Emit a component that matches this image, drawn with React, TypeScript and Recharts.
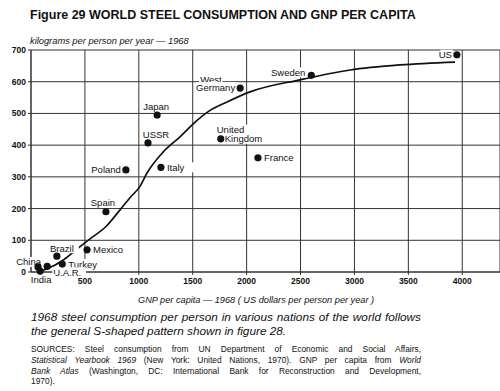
import { ComposedChart, Line, Scatter, XAxis, YAxis, CartesianGrid } from 'recharts'

// 1968 nations: GNP per capita (US $) and steel consumption (kg per person)
const countries = [
  'US', 'Sweden', 'West Germany', 'Japan', 'USSR', 'Italy', 'Poland', 'United Kingdom',
  'France', 'Spain', 'Mexico', 'Brazil', 'Turkey', 'China', 'U.A.R.', 'India',
]
const gnpPerCapita = [3950, 2600, 1940, 1170, 1085, 1205, 880, 1760, 2105, 695, 520, 240, 290, 65, 150, 85]
const steelPerCapita = [685, 620, 580, 495, 407, 330, 322, 420, 360, 190, 70, 50, 25, 16, 18, 3]

// the S-shaped trend curve
const curveGnp = [60, 150, 300, 455, 550, 700, 826, 920, 1011, 1076, 1225, 1382, 1540, 1640, 1818, 2031, 2495, 2959, 3423, 3933]
const curveSteel = [0, 10, 38, 80, 105, 145, 196, 235, 270, 312, 378, 426, 478, 505, 536, 568, 606, 637, 653, 662]

const xTicks = [500, 1000, 1500, 2000, 2500, 3000, 3500, 4000]
const yTicks = [0, 100, 200, 300, 400, 500, 600, 700]

type Piece = { text: string; dx: number; dy: number; anchor: 'start' | 'middle' | 'end' }

// where each country name sits relative to its dot
const labelPlacement: Record<string, Piece[]> = {
  'US': [{ text: 'US', dx: -5, dy: 0, anchor: 'end' }],
  'Sweden': [{ text: 'Sweden', dx: -6, dy: -3, anchor: 'end' }],
  'West Germany': [
    { text: 'West', dx: -40, dy: -9, anchor: 'start' },
    { text: 'Germany', dx: -5, dy: -1, anchor: 'end' },
  ],
  'Japan': [{ text: 'Japan', dx: -1, dy: -9, anchor: 'middle' }],
  'USSR': [{ text: 'USSR', dx: 8, dy: -8, anchor: 'middle' }],
  'Italy': [{ text: 'Italy', dx: 6, dy: 0, anchor: 'start' }],
  'Poland': [{ text: 'Poland', dx: -5, dy: 0, anchor: 'end' }],
  'United Kingdom': [
    { text: 'United', dx: -4, dy: -9, anchor: 'start' },
    { text: 'Kingdom', dx: 4, dy: 0, anchor: 'start' },
  ],
  'France': [{ text: 'France', dx: 6, dy: 0, anchor: 'start' }],
  'Spain': [{ text: 'Spain', dx: -3, dy: -9, anchor: 'middle' }],
  'Mexico': [{ text: 'Mexico', dx: 6, dy: 0, anchor: 'start' }],
  'Brazil': [{ text: 'Brazil', dx: 5, dy: -8, anchor: 'middle' }],
  'Turkey': [{ text: 'Turkey', dx: 6, dy: 0, anchor: 'start' }],
  'China': [{ text: 'China', dx: 3, dy: -5, anchor: 'end' }],
  'U.A.R.': [{ text: 'U.A.R.', dx: 6, dy: 6, anchor: 'start' }],
  'India': [{ text: 'India', dx: 1, dy: 8, anchor: 'middle' }],
}

const points = countries.map((name, i) => ({ name, x: gnpPerCapita[i], y: steelPerCapita[i] }))
const curve = curveGnp.map((x, i) => ({ x, y: curveSteel[i] }))

const FONT = '"Liberation Sans", Arial, Helvetica, sans-serif'
const INK = '#111'
const LABEL_SIZE = 9.5

function CountryLabel(props: any) {
  const { cx, cy, payload } = props
  const pieces = labelPlacement[payload.name] || []
  return (
    <g>
      {pieces.map((p) => {
        const w = p.text.length * LABEL_SIZE * 0.56 + 2
        const x = cx + p.dx
        const left = p.anchor === 'start' ? x - 1 : p.anchor === 'end' ? x - w + 1 : x - w / 2
        return (
          <g key={p.text}>
            <rect x={left} y={cy + p.dy - 5} width={w} height={10} fill="#fff" />
            <text
              x={x}
              y={cy + p.dy}
              textAnchor={p.anchor}
              dominantBaseline="central"
              fontFamily={FONT}
              fontSize={LABEL_SIZE}
              fill={INK}
            >
              {p.text}
            </text>
          </g>
        )
      })}
    </g>
  )
}

function CountryDot(props: any) {
  const { cx, cy } = props
  return <circle cx={cx} cy={cy} r={3.6} fill={INK} />
}

const abs = (top: number, left: number, extra: any = {}) => ({
  position: 'absolute' as const,
  top,
  left,
  fontFamily: FONT,
  color: INK,
  whiteSpace: 'nowrap' as const,
  ...extra,
})

const justified = { width: 390, whiteSpace: 'normal', textAlign: 'justify', textAlignLast: 'justify' }

export default function App() {
  return (
    <div style={{ position: 'absolute', left: 0, top: 0, width: 500, height: 391, background: '#fff', overflow: 'hidden' }}>
      <div style={abs(8, 30, { fontSize: 12.5, fontWeight: 'bold', lineHeight: '14px' })}>
        Figure 29 WORLD STEEL CONSUMPTION AND GNP PER CAPITA
      </div>
      <div style={abs(35.5, 30, { fontSize: 9.3, fontStyle: 'italic', lineHeight: '11px' })}>
        kilograms per person per year — 1968
      </div>

      <div style={{ position: 'absolute', left: 0, top: 0 }}>
        <ComposedChart width={500} height={292} margin={{ top: 50, right: 0, bottom: 0, left: 0 }}>
          <CartesianGrid stroke="#333" strokeWidth={1} />
          <XAxis
            type="number"
            dataKey="x"
            domain={[0, 4350]}
            ticks={xTicks}
            height={20}
            tickSize={3}
            tickMargin={3}
            axisLine={{ stroke: '#333' }}
            tickLine={{ stroke: '#333' }}
            tick={{ fontSize: 8.5, fontWeight: 'bold', fill: INK, fontFamily: FONT }}
          />
          <YAxis
            type="number"
            dataKey="y"
            domain={[0, 700]}
            ticks={yTicks}
            width={31}
            tickSize={3}
            tickMargin={2}
            axisLine={{ stroke: '#333' }}
            tickLine={{ stroke: '#333' }}
            tick={{ fontSize: 8.5, fontWeight: 'bold', fill: INK, fontFamily: FONT }}
          />
          <Scatter data={points} shape={CountryLabel} isAnimationActive={false} />
          <Line
            data={curve}
            dataKey="y"
            type="monotone"
            stroke={INK}
            strokeWidth={1.7}
            dot={false}
            activeDot={false}
            isAnimationActive={false}
          />
          <Scatter data={points} shape={CountryDot} isAnimationActive={false} />
        </ComposedChart>
      </div>

      <div style={abs(294.5, 138, { fontSize: 9.2, fontStyle: 'italic', lineHeight: '11px' })}>
        GNP per capita — 1968 ( US dollars per person per year )
      </div>

      <div style={abs(310, 31, { fontSize: 11.8, fontStyle: 'italic', lineHeight: '14px' })}>
        <div style={justified as any}>1968 steel consumption per person in various nations of the world follows</div>
        <div>the general S-shaped pattern shown in figure 28.</div>
      </div>

      <div style={abs(344, 31, { fontSize: 8.4, lineHeight: '10.8px' })}>
        <div style={justified as any}>
          SOURCES: Steel consumption from UN Department of Economic and Social Affairs,
        </div>
        <div style={justified as any}>
          <i>Statistical Yearbook 1969</i> (New York: United Nations, 1970). GNP per capita from <i>World</i>
        </div>
        <div style={justified as any}>
          <i>Bank Atlas</i> (Washington, DC: International Bank for Reconstruction and Development,
        </div>
        <div>1970).</div>
      </div>
    </div>
  )
}
